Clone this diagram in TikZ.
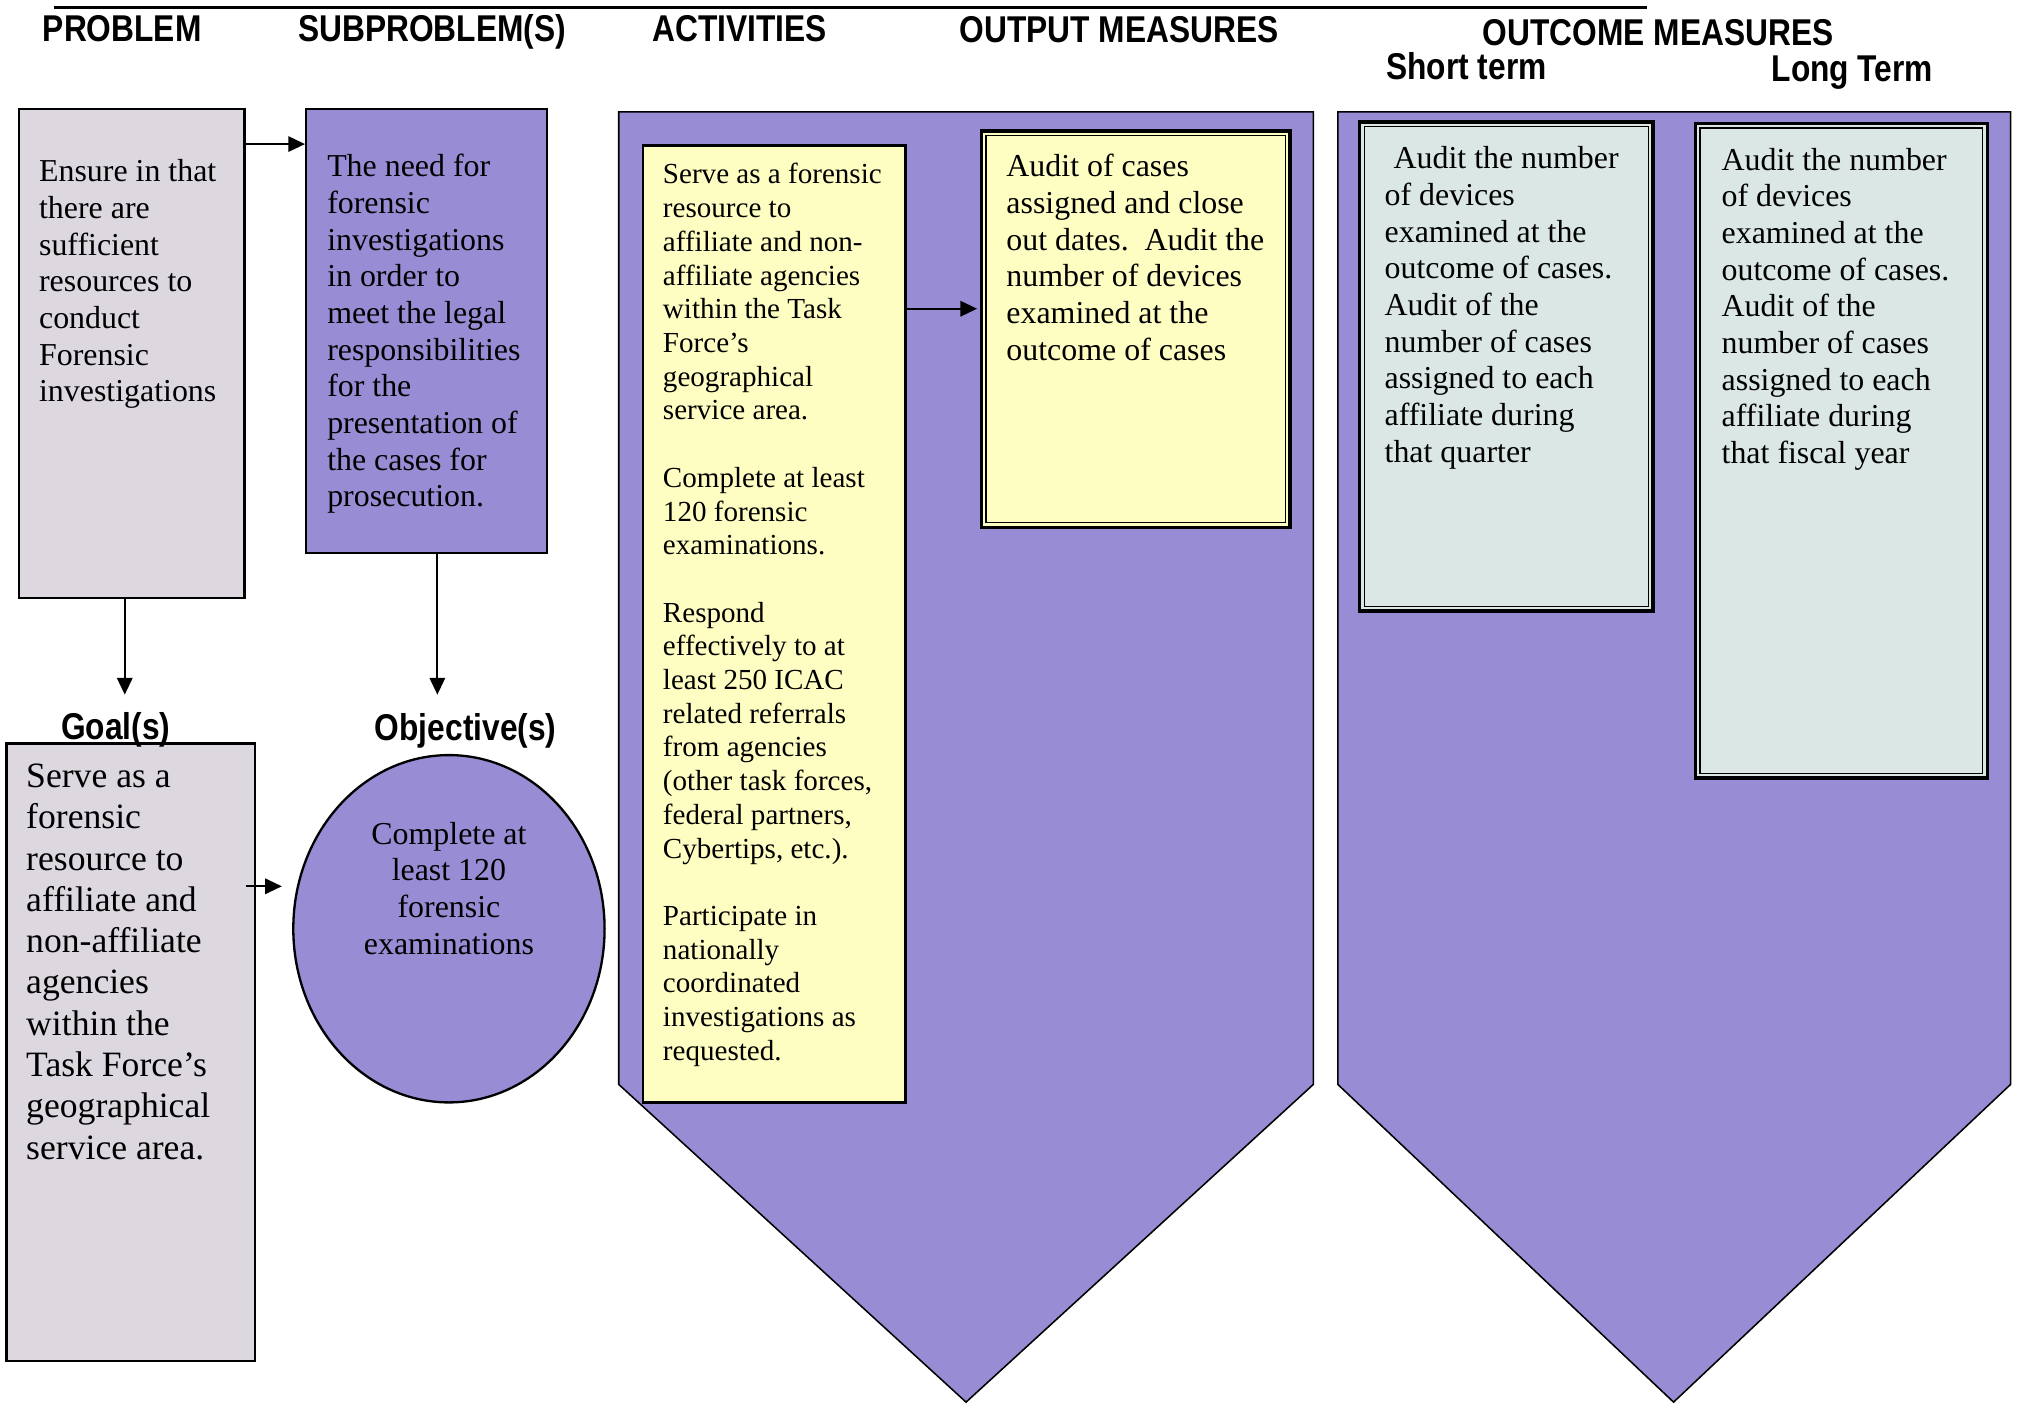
\documentclass[tikz,border=0pt]{standalone}
\usepackage{fontspec}
\setmainfont{Liberation Serif}
\newfontfamily\hdrfont[FakeStretch=0.85]{Liberation Sans}
\usetikzlibrary{arrows.meta,fit,calc,shapes.geometric}
\definecolor{gbox}{RGB}{221,215,223}
\definecolor{pbox}{RGB}{152,140,212}
\definecolor{ybox}{RGB}{254,254,194}
\definecolor{bbox}{RGB}{219,231,229}
\tikzset{
  hdr/.style={font=\hdrfont\bfseries\fontsize{14.5}{16}\selectfont, anchor=base, inner sep=0},
  frame/.style={draw=black, line width=0.9pt, inner sep=0},
  shapeline/.style={draw=black, line width=0.6pt},
  dblframe/.style={draw=black, line width=1.4pt, inner sep=0},
  innerline/.style={draw=black, line width=0.5pt},
  txt/.style={anchor=north west, inner sep=0, align=left, font=\fontsize{12.4}{14.25}\selectfont},
  arr/.style={draw=black, line width=0.75pt, -{Triangle[length=6.5pt,width=6pt]}},
}
\begin{document}
\begin{tikzpicture}[x=0.5pt,y=-0.5pt]
\useasboundingbox (0,0) rectangle (1568,1097);
\fill[white] (0,0) rectangle (1568,1097);

% top rule
\draw[line width=1.1pt] (42,6) -- (1280,6);

% headers
\node[hdr] (hProblem) at (95,32) {PROBLEM};
\node[hdr] (hSub) at (336,32) {SUBPROBLEM(S)};
\node[hdr] (hAct) at (575,32) {ACTIVITIES};
\node[hdr] (hOut) at (870,33) {OUTPUT MEASURES};
\node[hdr] (hOutc) at (1289,35) {OUTCOME MEASURES};
\node[hdr] (hShort) at (1140,62) {Short term};
\node[hdr] (hLong) at (1440,63) {Long Term};

% pentagons
\draw[shapeline, fill=pbox] (481,87) -- (1021,87) -- (1021,843) -- (751,1090) -- (481,843) -- cycle;
\draw[shapeline, fill=pbox] (1040,87) -- (1563,87) -- (1563,843) -- (1301,1090) -- (1040,843) -- cycle;

% left column boxes
\node[frame, fill=gbox, fit={(15,85) (190,465)}] (prob) {};
\node[frame, fill=pbox, fit={(238,85) (425,430)}] (sub) {};
\node[frame, fill=gbox, fit={(5,578) (198,1058)}] (goal) {};
\node[frame, fill=pbox, ellipse, minimum width=121pt, minimum height=135pt] (obj) at (349,722) {};

\node[hdr] (goallbl) at (90,575) {Goal(s)};
\node[hdr] (objlbl) at (362,576) {Objective(s)};

% activities / output / outcome boxes
\node[frame, fill=ybox, fit={(500,113) (704,857)}] (act) {};
\node[dblframe, fill=ybox, fit={(763,102) (1003,410)}] (out) {};
\draw[innerline] ($(out.north west)+(5,5)$) rectangle ($(out.south east)+(-5,-5)$);
\node[dblframe, fill=bbox, fit={(1057,95) (1285,475)}] (short) {};
\draw[innerline] ($(short.north west)+(5,5)$) rectangle ($(short.south east)+(-5,-5)$);
\node[dblframe, fill=bbox, fit={(1318,96) (1545,605)}] (long) {};
\draw[innerline] ($(long.north west)+(5,5)$) rectangle ($(long.south east)+(-5,-5)$);

% texts
\node[txt] (tProb) at (30,123.7) {Ensure in that\\there are\\sufficient\\resources to\\conduct\\Forensic\\investigations};
\node[txt] (tSub) at (254,119.7) {The need for\\forensic\\investigations\\in order to\\meet the legal\\responsibilities\\for the\\presentation of\\the cases for\\prosecution.};
\node[txt, font=\fontsize{13.85}{16.05}\selectfont] (tGoal) at (20,593.4) {Serve as a\\forensic\\resource to\\affiliate and\\non-affiliate\\agencies\\within the\\Task Force’s\\geographical\\service area.};
\node[txt, anchor=north, align=center] (tObj) at (349,638.7) {Complete at\\least 120\\forensic\\examinations};
\node[txt, font=\fontsize{11.3}{13.1}\selectfont] (tAct) at (515,126.7) {Serve as a forensic\\resource to\\affiliate and non-\\affiliate agencies\\within the Task\\Force’s\\geographical\\service area.\\[13.1pt]Complete at least\\120 forensic\\examinations.\\[13.1pt]Respond\\effectively to at\\least 250 ICAC\\related referrals\\from agencies\\(other task forces,\\federal partners,\\Cybertips, etc.).\\[13.1pt]Participate in\\nationally\\coordinated\\investigations as\\requested.};
\node[txt] (tOut) at (782,119.7) {Audit of cases\\assigned and close\\out dates.\ \ Audit the\\number of devices\\examined at the\\outcome of cases};
\node[txt] (tShort) at (1076,113.7) {\hspace*{3.5pt}Audit the number\\of devices\\examined at the\\outcome of cases.\\Audit of the\\number of cases\\assigned to each\\affiliate during\\that quarter};
\node[txt] (tLong) at (1338,114.7) {Audit the number\\of devices\\examined at the\\outcome of cases.\\Audit of the\\number of cases\\assigned to each\\affiliate during\\that fiscal year};

% connectors
\coordinate (gtip) at (97,540);
\coordinate (otip) at (340,540);
\draw[arr] (prob.east |- 0,112) -- (sub.west |- 0,112);
\draw[arr] (97,0 |- prob.south) -- (gtip);
\draw[arr] (340,0 |- sub.south) -- (otip);
\draw[arr] ($(goal.east |- 0,689)+(-8,0)$) -- ($(obj.west |- 0,689)+(-8,0)$);
\draw[arr, shorten >=1pt] (act.east |- 0,240) -- (out.west |- 0,240);
\end{tikzpicture}
\end{document}
